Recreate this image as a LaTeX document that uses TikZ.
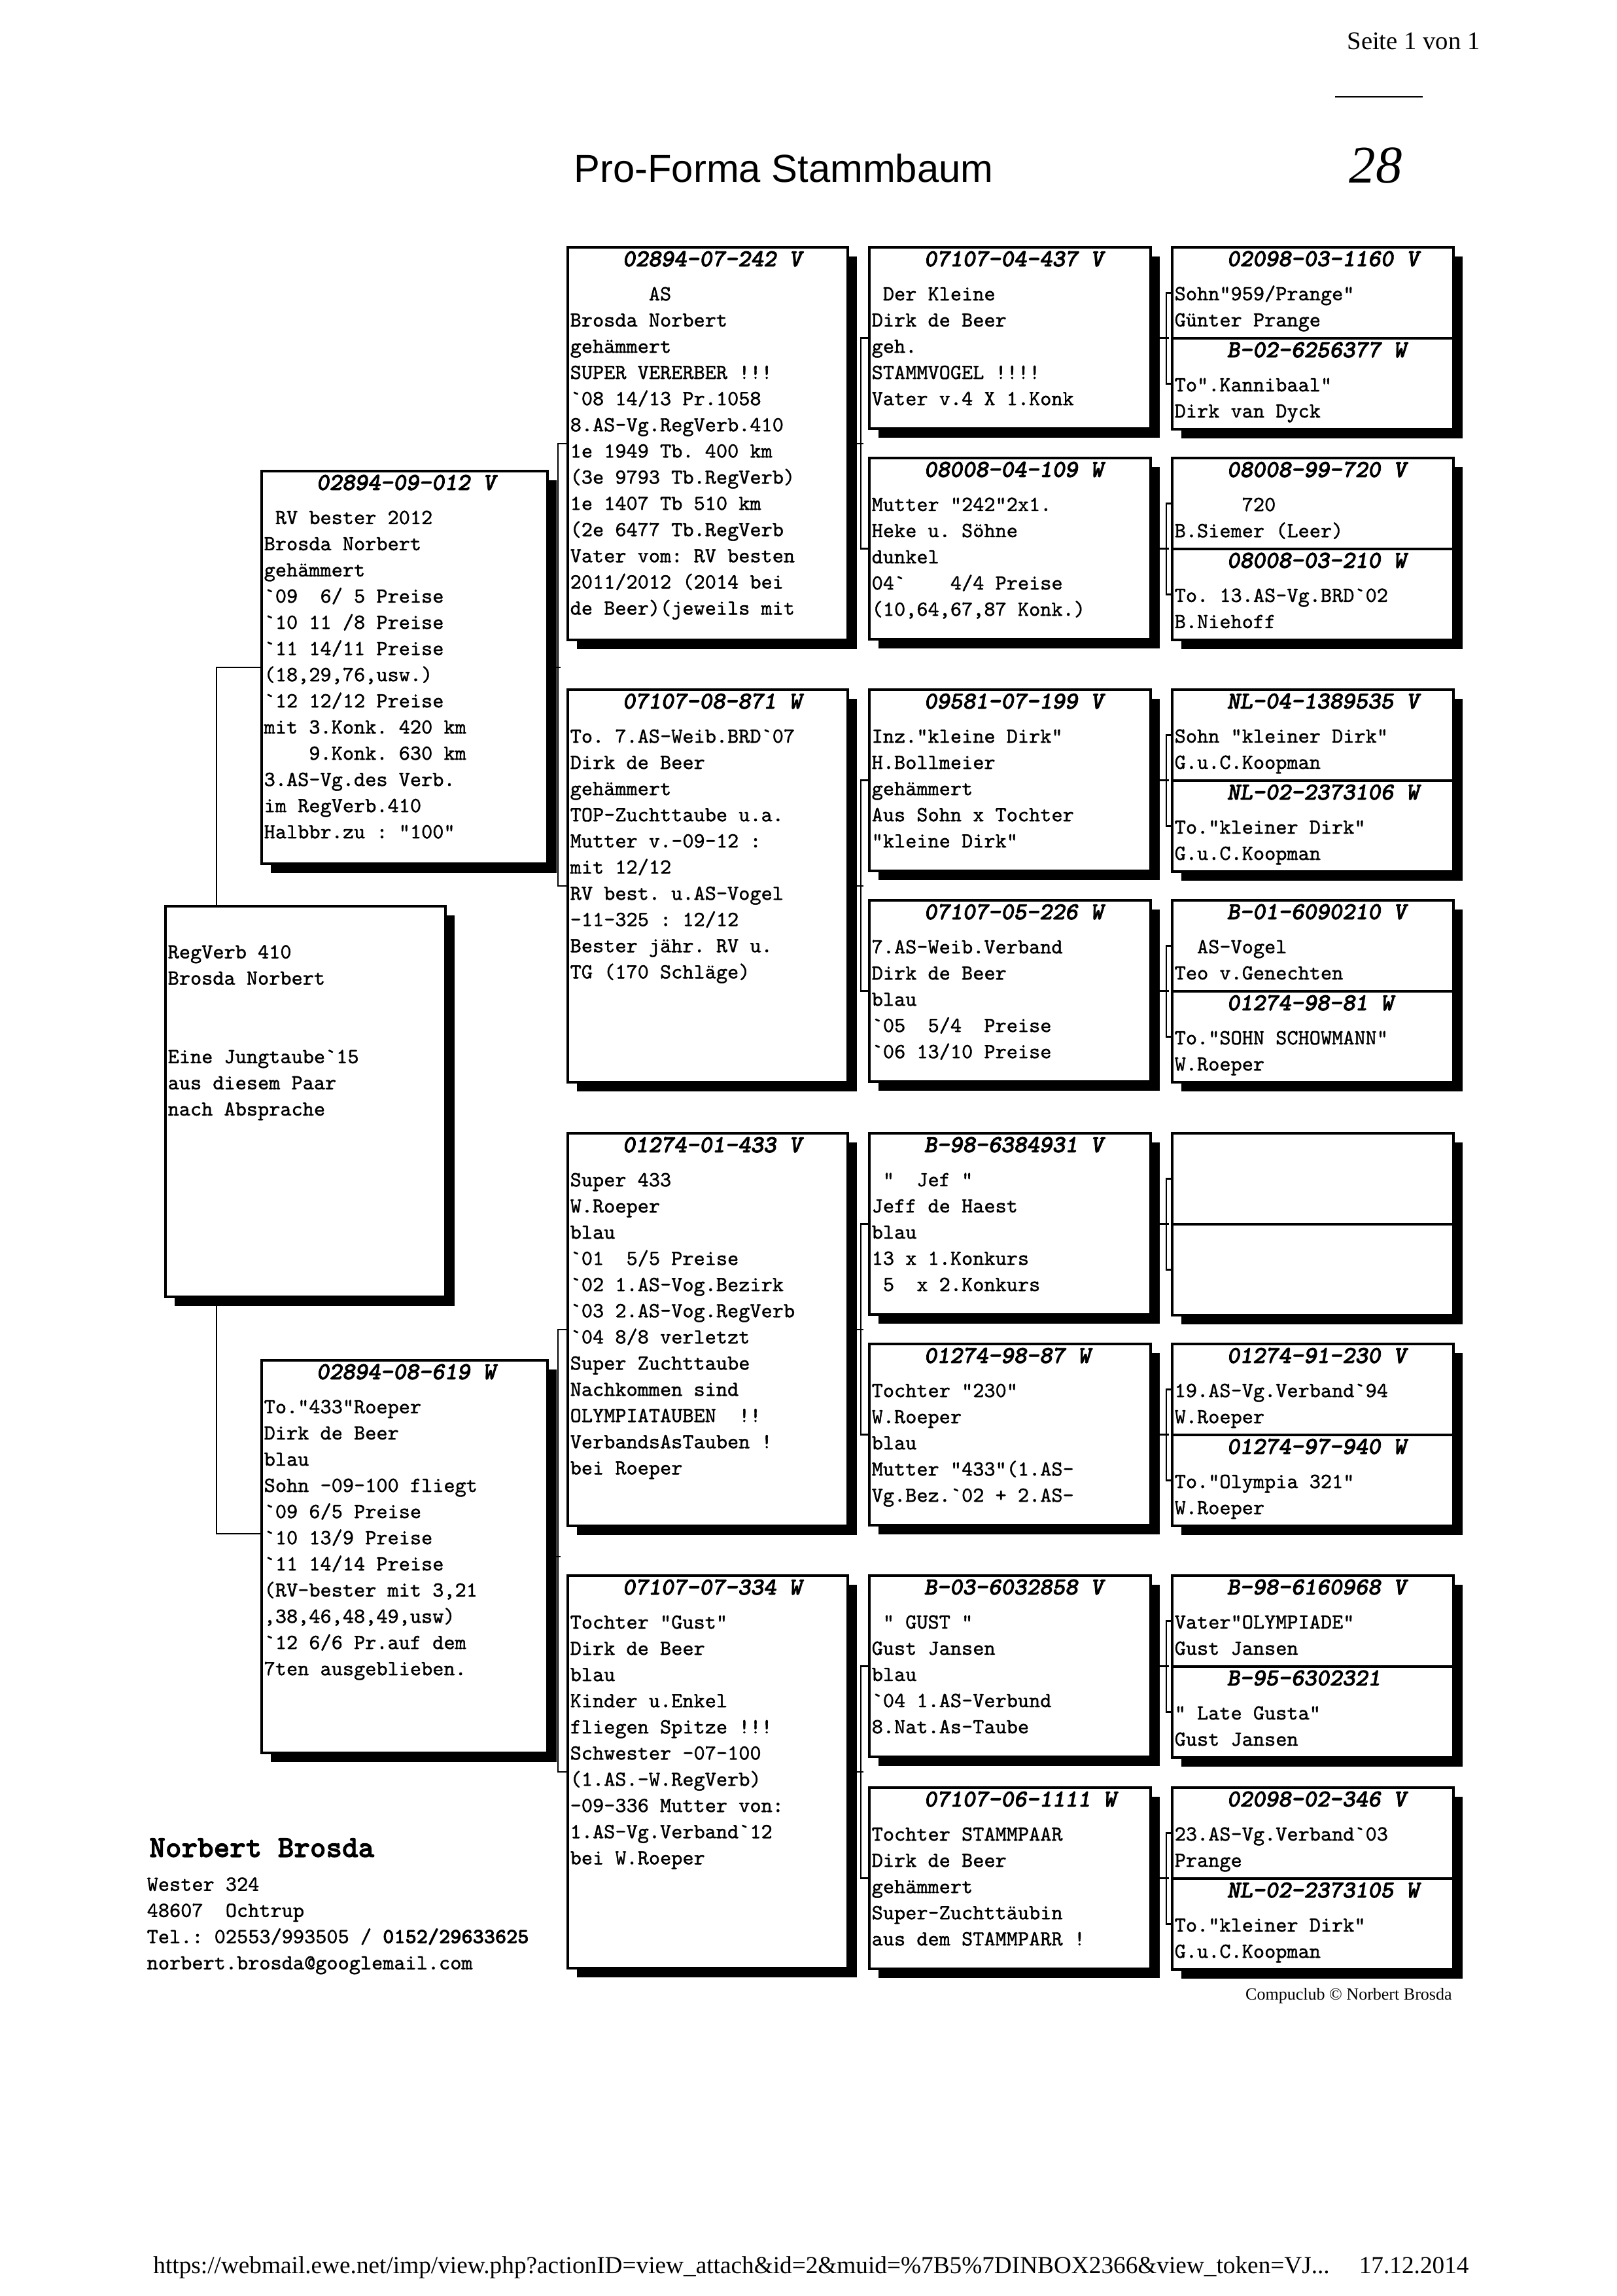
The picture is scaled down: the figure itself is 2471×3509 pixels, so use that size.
\documentclass[tikz,border=0pt]{standalone}
\usepackage{fontspec}
\setmainfont{Liberation Serif}
\setsansfont{Liberation Sans}
\setmonofont{lmmono10-regular.otf}[FakeBold=1.2]
\newfontfamily\idfam{lmmonolt10-boldoblique.otf}[FakeBold=2]
\newfontfamily\boldmono{lmmonolt10-bold.otf}[FakeBold=2]
\usepackage{tikz}
\usetikzlibrary{positioning, shadows, backgrounds}
\newcommand{\pid}[1]{{\idfam\fontsize{10.6pt}{0.4cm}\selectfont #1}}

\begin{document}
\begin{tikzpicture}[
    x=0.01cm, y=-0.01cm,
    pbox/.style={draw, line width=1.1pt, fill=white, anchor=north west, inner sep=0pt,
                 drop shadow={shadow xshift=0.14cm, shadow yshift=-0.14cm, fill=black, opacity=1}},
    gen1/.style={pbox, minimum width=4.28cm, minimum height=5.97cm},
    gen2/.style={pbox, minimum width=4.37cm, minimum height=6.00cm},
    gen3/.style={pbox, minimum width=4.28cm, minimum height=6.00cm},
    gen4/.style={pbox, minimum width=4.30cm, minimum height=2.77cm},
    gen5/.style={pbox, minimum width=4.30cm, minimum height=1.39cm},
    txt/.style={anchor=north west, inner sep=0pt, align=left,
                font=\fontsize{9.3pt}{0.4cm}\selectfont\ttfamily},
    conn/.style={line width=0.6pt},
]
\useasboundingbox (0,0) rectangle (2471,3509);

% ---- page head ----
\node[font=\fontsize{11pt}{13pt}\selectfont, anchor=base east] (seite) at (2275,76) {Seite 1 von 1};
\draw[line width=0.6pt] (2041,148) -- (2175,148);
\node[font=\sffamily\fontsize{17pt}{20pt}\selectfont, anchor=base] (title) at (1198,278) {Pro-Forma Stammbaum};
\node[font=\itshape\fontsize{23pt}{26pt}\selectfont, anchor=base] (pageno) at (2103,280) {28};

% ---- generation 2: parents ----
\node[gen2] (b1) at (398,718) {};
\node[txt, below right=0.07cm and 0.05cm of b1.north west] (b1t) {\rule{0pt}{0.22cm}\hspace*{0.8cm}\pid{02894-09-012 V}\\[0.12cm]
\phantom{x}RV bester 2012\\ Brosda Norbert\\ gehämmert\\ `09~~6/ 5 Preise\\ `10 11 /8 Preise\\
`11 14/11 Preise\\ (18,29,76,usw.)\\ `12 12/12 Preise\\ mit 3.Konk. 420 km\\ \phantom{xxxx}9.Konk. 630 km\\
3.AS-Vg.des Verb.\\ im RegVerb.410\\ Halbbr.zu : "100"};
\node[gen2] (b2) at (398,2077) {};
\node[txt, below right=0.07cm and 0.05cm of b2.north west] (b2t) {\rule{0pt}{0.22cm}\hspace*{0.8cm}\pid{02894-08-619 W}\\[0.12cm]
To."433"Roeper\\ Dirk de Beer\\ blau\\ Sohn -09-100 fliegt\\ `09 6/5 Preise\\ `10 13/9 Preise\\
`11 14/14 Preise\\ (RV-bester mit 3,21\\ ,38,46,48,49,usw)\\ `12 6/6 Pr.auf dem\\ 7ten ausgeblieben.};

% ---- generation 1: the young bird ----
\node[gen1] (subj) at (251,1383) {};
\node[txt, below right=0.07cm and 0.05cm of subj.north west] (subjt) {\rule{0pt}{0.22cm}\\[0.12cm]
RegVerb 410\\ Brosda Norbert\\ \mbox{}\\ \mbox{}\\ Eine Jungtaube`15\\ aus diesem Paar\\ nach Absprache};

% ---- generation 3: grandparents ----
\node[gen3] (c1) at (866,376) {};
\node[txt, below right=0.07cm and 0.05cm of c1.north west] (c1t) {\rule{0pt}{0.22cm}\hspace*{0.8cm}\pid{02894-07-242 V}\\[0.12cm]
\phantom{xxxxxxx}AS\\ Brosda Norbert\\ gehämmert\\ SUPER VERERBER !!!\\ `08 14/13 Pr.1058\\
8.AS-Vg.RegVerb.410\\ 1e 1949 Tb. 400 km\\ (3e 9793 Tb.RegVerb)\\ 1e 1407 Tb 510 km\\
(2e 6477 Tb.RegVerb\\ Vater vom: RV besten\\ 2011/2012 (2014 bei\\ de Beer)(jeweils mit};
\node[gen3] (c2) at (866,1052) {};
\node[txt, below right=0.07cm and 0.05cm of c2.north west] (c2t) {\rule{0pt}{0.22cm}\hspace*{0.8cm}\pid{07107-08-871 W}\\[0.12cm]
To. 7.AS-Weib.BRD`07\\ Dirk de Beer\\ gehämmert\\ TOP-Zuchttaube u.a.\\ Mutter v.-09-12 :\\
mit 12/12\\ RV best. u.AS-Vogel\\ -11-325 : 12/12\\ Bester jähr. RV u.\\ TG (170 Schläge)};
\node[gen3] (c3) at (866,1730) {};
\node[txt, below right=0.07cm and 0.05cm of c3.north west] (c3t) {\rule{0pt}{0.22cm}\hspace*{0.8cm}\pid{01274-01-433 V}\\[0.12cm]
Super 433\\ W.Roeper\\ blau\\ `01~~5/5 Preise\\ `02 1.AS-Vog.Bezirk\\ `03 2.AS-Vog.RegVerb\\
`04 8/8 verletzt\\ Super Zuchttaube\\ Nachkommen sind\\ OLYMPIATAUBEN~~!!\\ VerbandsAsTauben !\\ bei Roeper};
\node[gen3] (c4) at (866,2406) {};
\node[txt, below right=0.07cm and 0.05cm of c4.north west] (c4t) {\rule{0pt}{0.22cm}\hspace*{0.8cm}\pid{07107-07-334 W}\\[0.12cm]
Tochter "Gust"\\ Dirk de Beer\\ blau\\ Kinder u.Enkel\\ fliegen Spitze !!!\\ Schwester -07-100\\
(1.AS.-W.RegVerb)\\ -09-336 Mutter von:\\ 1.AS-Vg.Verband`12\\ bei W.Roeper};

% ---- generation 4 ----
\node[gen4] (d1) at (1327,376) {};
\node[txt, below right=0.07cm and 0.05cm of d1.north west] (d1t) {\rule{0pt}{0.22cm}\hspace*{0.8cm}\pid{07107-04-437 V}\\[0.12cm]
\phantom{x}Der Kleine\\ Dirk de Beer\\ geh.\\ STAMMVOGEL !!!!\\ Vater v.4 X 1.Konk};
\node[gen4] (d2) at (1327,698) {};
\node[txt, below right=0.07cm and 0.05cm of d2.north west] (d2t) {\rule{0pt}{0.22cm}\hspace*{0.8cm}\pid{08008-04-109 W}\\[0.12cm]
Mutter "242"2x1.\\ Heke u. Söhne\\ dunkel\\ 04`~~~~4/4 Preise\\ (10,64,67,87 Konk.)};
\node[gen4] (d3) at (1327,1052) {};
\node[txt, below right=0.07cm and 0.05cm of d3.north west] (d3t) {\rule{0pt}{0.22cm}\hspace*{0.8cm}\pid{09581-07-199 V}\\[0.12cm]
Inz."kleine Dirk"\\ H.Bollmeier\\ gehämmert\\ Aus Sohn x Tochter\\ "kleine Dirk"};
\node[gen4] (d4) at (1327,1374) {};
\node[txt, below right=0.07cm and 0.05cm of d4.north west] (d4t) {\rule{0pt}{0.22cm}\hspace*{0.8cm}\pid{07107-05-226 W}\\[0.12cm]
7.AS-Weib.Verband\\ Dirk de Beer\\ blau\\ `05~~5/4~~Preise\\ `06 13/10 Preise};
\node[gen4] (d5) at (1327,1730) {};
\node[txt, below right=0.07cm and 0.05cm of d5.north west] (d5t) {\rule{0pt}{0.22cm}\hspace*{0.8cm}\pid{B-98-6384931 V}\\[0.12cm]
\phantom{x}"~~Jef "\\ Jeff de Haest\\ blau\\ 13 x 1.Konkurs\\ \phantom{x}5~~x 2.Konkurs};
\node[gen4] (d6) at (1327,2052) {};
\node[txt, below right=0.07cm and 0.05cm of d6.north west] (d6t) {\rule{0pt}{0.22cm}\hspace*{0.8cm}\pid{01274-98-87 W}\\[0.12cm]
Tochter "230"\\ W.Roeper\\ blau\\ Mutter "433"(1.AS-\\ Vg.Bez.`02 + 2.AS-};
\node[gen4] (d7) at (1327,2406) {};
\node[txt, below right=0.07cm and 0.05cm of d7.north west] (d7t) {\rule{0pt}{0.22cm}\hspace*{0.8cm}\pid{B-03-6032858 V}\\[0.12cm]
\phantom{x}" GUST "\\ Gust Jansen\\ blau\\ `04 1.AS-Verbund\\ 8.Nat.As-Taube};
\node[gen4] (d8) at (1327,2730) {};
\node[txt, below right=0.07cm and 0.05cm of d8.north west] (d8t) {\rule{0pt}{0.22cm}\hspace*{0.8cm}\pid{07107-06-1111 W}\\[0.12cm]
Tochter STAMMPAAR\\ Dirk de Beer\\ gehämmert\\ Super-Zuchttäubin\\ aus dem STAMMPARR !};

% ---- generation 5 (stacked pairs) ----
\node[gen5] (e1) at (1790,376) {};
\node[txt, below right=0.07cm and 0.05cm of e1.north west] (e1t) {\rule{0pt}{0.22cm}\hspace*{0.8cm}\pid{02098-03-1160 V}\\[0.12cm]
Sohn"959/Prange"\\ Günter Prange};
\node[gen5] (e2) at (1790,515) {};
\node[txt, below right=0.07cm and 0.05cm of e2.north west] (e2t) {\rule{0pt}{0.22cm}\hspace*{0.8cm}\pid{B-02-6256377 W}\\[0.12cm]
To".Kannibaal"\\ Dirk van Dyck};
\node[gen5] (e3) at (1790,698) {};
\node[txt, below right=0.07cm and 0.05cm of e3.north west] (e3t) {\rule{0pt}{0.22cm}\hspace*{0.8cm}\pid{08008-99-720 V}\\[0.12cm]
\phantom{xxxxxx}720\\ B.Siemer (Leer)};
\node[gen5] (e4) at (1790,837) {};
\node[txt, below right=0.07cm and 0.05cm of e4.north west] (e4t) {\rule{0pt}{0.22cm}\hspace*{0.8cm}\pid{08008-03-210 W}\\[0.12cm]
To. 13.AS-Vg.BRD`02\\ B.Niehoff};
\node[gen5] (e5) at (1790,1052) {};
\node[txt, below right=0.07cm and 0.05cm of e5.north west] (e5t) {\rule{0pt}{0.22cm}\hspace*{0.8cm}\pid{NL-04-1389535 V}\\[0.12cm]
Sohn "kleiner Dirk"\\ G.u.C.Koopman};
\node[gen5] (e6) at (1790,1191) {};
\node[txt, below right=0.07cm and 0.05cm of e6.north west] (e6t) {\rule{0pt}{0.22cm}\hspace*{0.8cm}\pid{NL-02-2373106 W}\\[0.12cm]
To."kleiner Dirk"\\ G.u.C.Koopman};
\node[gen5] (e7) at (1790,1374) {};
\node[txt, below right=0.07cm and 0.05cm of e7.north west] (e7t) {\rule{0pt}{0.22cm}\hspace*{0.8cm}\pid{B-01-6090210 V}\\[0.12cm]
\phantom{xx}AS-Vogel\\ Teo v.Genechten};
\node[gen5] (e8) at (1790,1513) {};
\node[txt, below right=0.07cm and 0.05cm of e8.north west] (e8t) {\rule{0pt}{0.22cm}\hspace*{0.8cm}\pid{01274-98-81 W}\\[0.12cm]
To."SOHN SCHOWMANN"\\ W.Roeper};
\node[gen5] (e9) at (1790,1730) {};
\node[gen5] (e10) at (1790,1869) {};
\node[gen5] (e11) at (1790,2052) {};
\node[txt, below right=0.07cm and 0.05cm of e11.north west] (e11t) {\rule{0pt}{0.22cm}\hspace*{0.8cm}\pid{01274-91-230 V}\\[0.12cm]
19.AS-Vg.Verband`94\\ W.Roeper};
\node[gen5] (e12) at (1790,2191) {};
\node[txt, below right=0.07cm and 0.05cm of e12.north west] (e12t) {\rule{0pt}{0.22cm}\hspace*{0.8cm}\pid{01274-97-940 W}\\[0.12cm]
To."Olympia 321"\\ W.Roeper};
\node[gen5] (e13) at (1790,2406) {};
\node[txt, below right=0.07cm and 0.05cm of e13.north west] (e13t) {\rule{0pt}{0.22cm}\hspace*{0.8cm}\pid{B-98-6160968 V}\\[0.12cm]
Vater"OLYMPIADE"\\ Gust Jansen};
\node[gen5] (e14) at (1790,2545) {};
\node[txt, below right=0.07cm and 0.05cm of e14.north west] (e14t) {\rule{0pt}{0.22cm}\hspace*{0.8cm}\pid{B-95-6302321}\\[0.12cm]
" Late Gusta"\\ Gust Jansen};
\node[gen5] (e15) at (1790,2730) {};
\node[txt, below right=0.07cm and 0.05cm of e15.north west] (e15t) {\rule{0pt}{0.22cm}\hspace*{0.8cm}\pid{02098-02-346 V}\\[0.12cm]
23.AS-Vg.Verband`03\\ Prange};
\node[gen5] (e16) at (1790,2869) {};
\node[txt, below right=0.07cm and 0.05cm of e16.north west] (e16t) {\rule{0pt}{0.22cm}\hspace*{0.8cm}\pid{NL-02-2373105 W}\\[0.12cm]
To."kleiner Dirk"\\ G.u.C.Koopman};

% ---- breeder address and page foot ----
\node[font=\boldmono\fontsize{13.3pt}{16pt}\selectfont, anchor=base west] (owner) at (216,2838) {Norbert Brosda};
\node[txt] (addr) at (224,2859) {\rule{0pt}{0.3cm}Wester 324\\ 48607~~Ochtrup\\
Tel.: 02553/993505 / {\boldmono 0152/29633625}\\ norbert.brosda@googlemail.com};
\node[font=\fontsize{7.4pt}{9pt}\selectfont, anchor=base east] (credit) at (2232,3056) {Compuclub © Norbert Brosda};
\node[font=\fontsize{10.6pt}{12pt}\selectfont, anchor=base west] (url) at (222,3474)
    {https://webmail.ewe.net/imp/view.php?actionID=view\_attach\&id=2\&muid=\%7B5\%7DINBOX2366\&view\_token=VJ...};
\node[font=\fontsize{10.6pt}{12pt}\selectfont, anchor=base east] (date) at (2258,3474) {17.12.2014};

% ---- pedigree connectors (behind the boxes) ----
\begin{scope}[on background layer]
\fill[white] (0,0) rectangle (2471,3509);
\draw[conn] (b1.west) -- ++(-67,0) |- ([yshift=0.35cm]b2.west);
\draw[conn] (c1.west) -- ++(-13,0) |- (c2.west);
\draw[conn] (b1.east) -- ++(18,0);
\draw[conn] (c3.west) -- ++(-13,0) |- (c4.west);
\draw[conn] (b2.east) -- ++(18,0);
\draw[conn] (d1.west) -- ++(-11,0) |- (d2.west);
\draw[conn] (c1.east) -- ++(22,0);
\draw[conn] (d3.west) -- ++(-11,0) |- (d4.west);
\draw[conn] (c2.east) -- ++(22,0);
\draw[conn] (d5.west) -- ++(-11,0) |- (d6.west);
\draw[conn] (c3.east) -- ++(22,0);
\draw[conn] (d7.west) -- ++(-11,0) |- (d8.west);
\draw[conn] (c4.east) -- ++(22,0);
\draw[conn] (e1.west) -- ++(-7,0) |- (e2.west);
\draw[conn] (d1.east) -- ++(26,0);
\draw[conn] (e3.west) -- ++(-7,0) |- (e4.west);
\draw[conn] (d2.east) -- ++(26,0);
\draw[conn] (e5.west) -- ++(-7,0) |- (e6.west);
\draw[conn] (d3.east) -- ++(26,0);
\draw[conn] (e7.west) -- ++(-7,0) |- (e8.west);
\draw[conn] (d4.east) -- ++(26,0);
\draw[conn] (e9.west) -- ++(-7,0) |- (e10.west);
\draw[conn] (d5.east) -- ++(26,0);
\draw[conn] (e11.west) -- ++(-7,0) |- (e12.west);
\draw[conn] (d6.east) -- ++(26,0);
\draw[conn] (e13.west) -- ++(-7,0) |- (e14.west);
\draw[conn] (d7.east) -- ++(26,0);
\draw[conn] (e15.west) -- ++(-7,0) |- (e16.west);
\draw[conn] (d8.east) -- ++(26,0);
\end{scope}
\end{tikzpicture}
\end{document}
